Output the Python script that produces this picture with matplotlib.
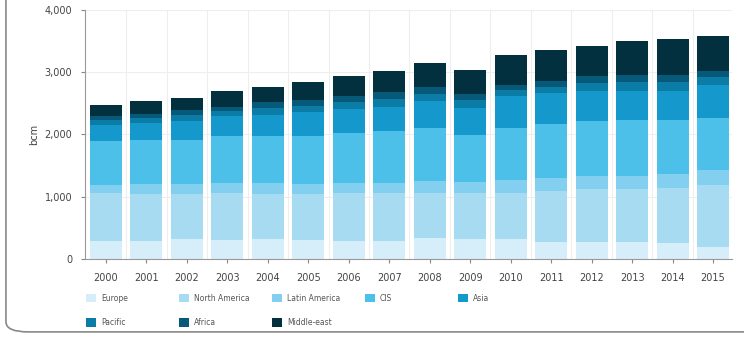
import numpy as np
import matplotlib.pyplot as plt
from matplotlib.patches import FancyBboxPatch, Patch

years = ['2000', '2001', '2002', '2003', '2004', '2005', '2006', '2007',
         '2008', '2009', '2010', '2011', '2012', '2013', '2014', '2015']

# bcm (bottom to top)
europe = [294, 289, 317, 305, 317, 305, 294, 294, 333, 317, 317, 278, 268, 268, 252, 198]
north_america = [762, 756, 728, 751, 728, 740, 762, 762, 733, 739, 749, 815, 857, 857, 884, 992]
latin_america = [134, 161, 161, 161, 172, 161, 161, 161, 188, 177, 204, 204, 214, 214, 225, 230]
cis = [696, 696, 707, 749, 760, 771, 803, 830, 847, 761, 831, 873, 868, 896, 874, 842]
asia = [268, 280, 294, 333, 338, 375, 387, 392, 428, 429, 508, 494, 483, 455, 455, 535]
pacific = [80, 82, 97, 77, 109, 106, 118, 129, 127, 127, 103, 102, 133, 147, 147, 118]
africa = [65, 67, 80, 63, 89, 87, 96, 106, 104, 103, 85, 84, 108, 121, 121, 96]
middle_east = [177, 198, 200, 251, 247, 296, 321, 337, 386, 386, 483, 499, 482, 536, 574, 563]

labels = ['Europe', 'North America', 'Latin America', 'CIS', 'Asia',
          'Pacific', 'Africa', 'Middle-east']
colors = ['#d6eefa', '#a7dbf2', '#82cfef', '#4cc0e9', '#1599cd',
          '#0b7ca6', '#07597a', '#02303f']
series = [europe, north_america, latin_america, cis, asia, pacific, africa, middle_east]

fig = plt.figure(figsize=(7.44, 3.38), dpi=100)
ax = fig.add_axes([0.114, 0.234, 0.87, 0.737])

x = np.arange(len(years))
bottom = np.zeros(len(years))
handles = []
for vals, lab, col in zip(series, labels, colors):
  ax.bar(x, vals, bottom=bottom, width=0.79, color=col, zorder=2)
  bottom += np.array(vals)
  handles.append(Patch(facecolor=col, label=lab))

# grid and axes
ax.set_xlim(-0.52, 15.47)
ax.set_ylim(0, 4000)
ax.set_yticks(range(0, 4001, 1000))
ax.set_yticklabels(['0', '1,000', '2,000', '3,000', '4,000'])
ax.set_xticks(x)
ax.set_xticklabels(years)
ax.set_xticks(x[:-1] + 0.5, minor=True)
ax.grid(True, which='minor', axis='x', color='#eeeeee', linewidth=0.8, zorder=0)
ax.grid(True, which='major', axis='y', color='#eeeeee', linewidth=0.8, zorder=0)
ax.tick_params(which='minor', length=0)
ax.tick_params(axis='both', labelsize=7, colors='#888888', labelcolor='#444444', length=3)
ax.tick_params(axis='y', pad=6)
ax.tick_params(axis='x', pad=7)
for s in ['top', 'right']:
  ax.spines[s].set_visible(False)
for s in ['left', 'bottom']:
  ax.spines[s].set_color('#999999')
ax.set_ylabel('bcm', fontsize=7, color='#444444', labelpad=4)

# legend, one small legend per column
cols = [[0, 5], [1, 6], [2, 7], [3], [4]]
for i, idx in enumerate(cols):
  fig.legend([handles[k] for k in idx], [labels[k] for k in idx],
             loc='upper left', bbox_to_anchor=(0.111 + i * 0.125, 0.142),
             frameon=False, fontsize=5.5, handlelength=1.3, handleheight=1.3,
             handletextpad=0.6, labelspacing=2.0, borderpad=0, labelcolor='#555555')

# frame around the chart
frame = FancyBboxPatch((0.008, 0.018), 1.2, 1.2, boxstyle='round,pad=0,rounding_size=0.03',
                       transform=fig.transFigure, fill=False, edgecolor='#888888', linewidth=1.2)
fig.patches.append(frame)

plt.savefig('out.png', dpi=100)
plt.close()
